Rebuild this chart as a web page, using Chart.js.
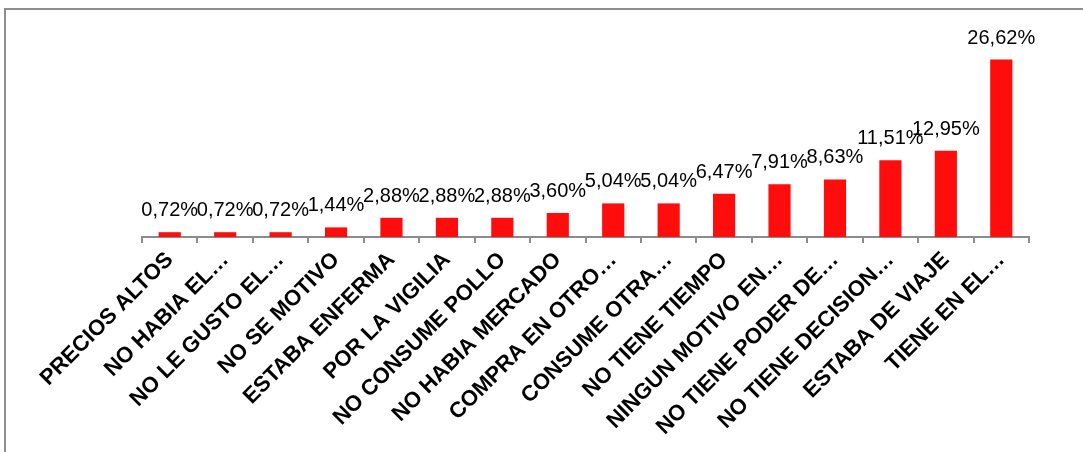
<!DOCTYPE html>
<html>
<head>
<meta charset="utf-8">
<script src="https://cdn.jsdelivr.net/npm/chart.js@4/dist/chart.umd.min.js"></script>
<style>
  html, body { margin: 0; padding: 0; background: #fff; }
  #wrap { position: relative; width: 1083px; height: 452px; overflow: hidden; }
  #frame { position: absolute; left: 4px; top: 8px; right: -4px; bottom: -4px;
           border-top: 2px solid #8e8e8e; border-left: 2px solid #8e8e8e; }
  canvas { position: absolute; left: 0; top: 0; }
</style>
</head>
<body>
<div id="wrap">
  <div id="frame"></div>
  <canvas id="chart" width="1083" height="452"></canvas>
</div>
<script>
// Motivos y porcentajes
const categories = [
  'PRECIOS ALTOS',
  'NO HABIA EL…',
  'NO LE GUSTO EL…',
  'NO SE MOTIVO',
  'ESTABA ENFERMA',
  'POR LA VIGILIA',
  'NO CONSUME POLLO',
  'NO HABIA MERCADO',
  'COMPRA EN OTRO…',
  'CONSUME OTRA…',
  'NO TIENE TIEMPO',
  'NINGUN MOTIVO EN…',
  'NO TIENE PODER DE…',
  'NO TIENE DECISION…',
  'ESTABA DE VIAJE',
  'TIENE EN EL…'
];
const percentages = [0.72, 0.72, 0.72, 1.44, 2.88, 2.88, 2.88, 3.60, 5.04, 5.04, 6.47, 7.91, 8.63, 11.51, 12.95, 26.62];
const yRange = [0, 30];

const fmtPct = v => v.toFixed(2).replace('.', ',') + '%';

// Etiquetas de valor encima de cada barra
const valueLabels = {
  id: 'valueLabels',
  afterDatasetsDraw(chart) {
    const ctx = chart.ctx;
    const meta = chart.getDatasetMeta(0);
    ctx.save();
    ctx.font = '20px "Liberation Sans", Arial, sans-serif';
    ctx.fillStyle = '#000';
    ctx.textAlign = 'center';
    ctx.textBaseline = 'alphabetic';
    meta.data.forEach((bar, i) => {
      ctx.fillText(fmtPct(percentages[i]), bar.x, bar.y - 16);
    });
    ctx.restore();
  }
};

new Chart(document.getElementById('chart'), {
  type: 'bar',
  data: {
    labels: categories,
    datasets: [{
      data: percentages,
      backgroundColor: 'rgb(255,12,12)',
      borderWidth: 0,
      barPercentage: 0.4,
      categoryPercentage: 1.0
    }]
  },
  options: {
    responsive: false,
    animation: false,
    layout: { padding: { left: 142, right: 54, top: 37, bottom: 0 } },
    plugins: { legend: { display: false }, tooltip: { enabled: false } },
    scales: {
      x: {
        grid: { offset: true, drawOnChartArea: false, drawTicks: true, tickLength: 6, color: '#8c8c8c', lineWidth: 2 },
        border: { display: true, color: '#8c8c8c', width: 2 },
        ticks: {
          autoSkip: false, maxRotation: 45, minRotation: 45, padding: 4,
          color: '#000',
          font: { family: '"Liberation Sans", Arial, sans-serif', weight: 'bold', size: 22 }
        },
        afterFit: s => { s.height = 215; }
      },
      y: { display: false, min: yRange[0], max: yRange[1] }
    }
  },
  plugins: [valueLabels]
});
</script>
</body>
</html>
